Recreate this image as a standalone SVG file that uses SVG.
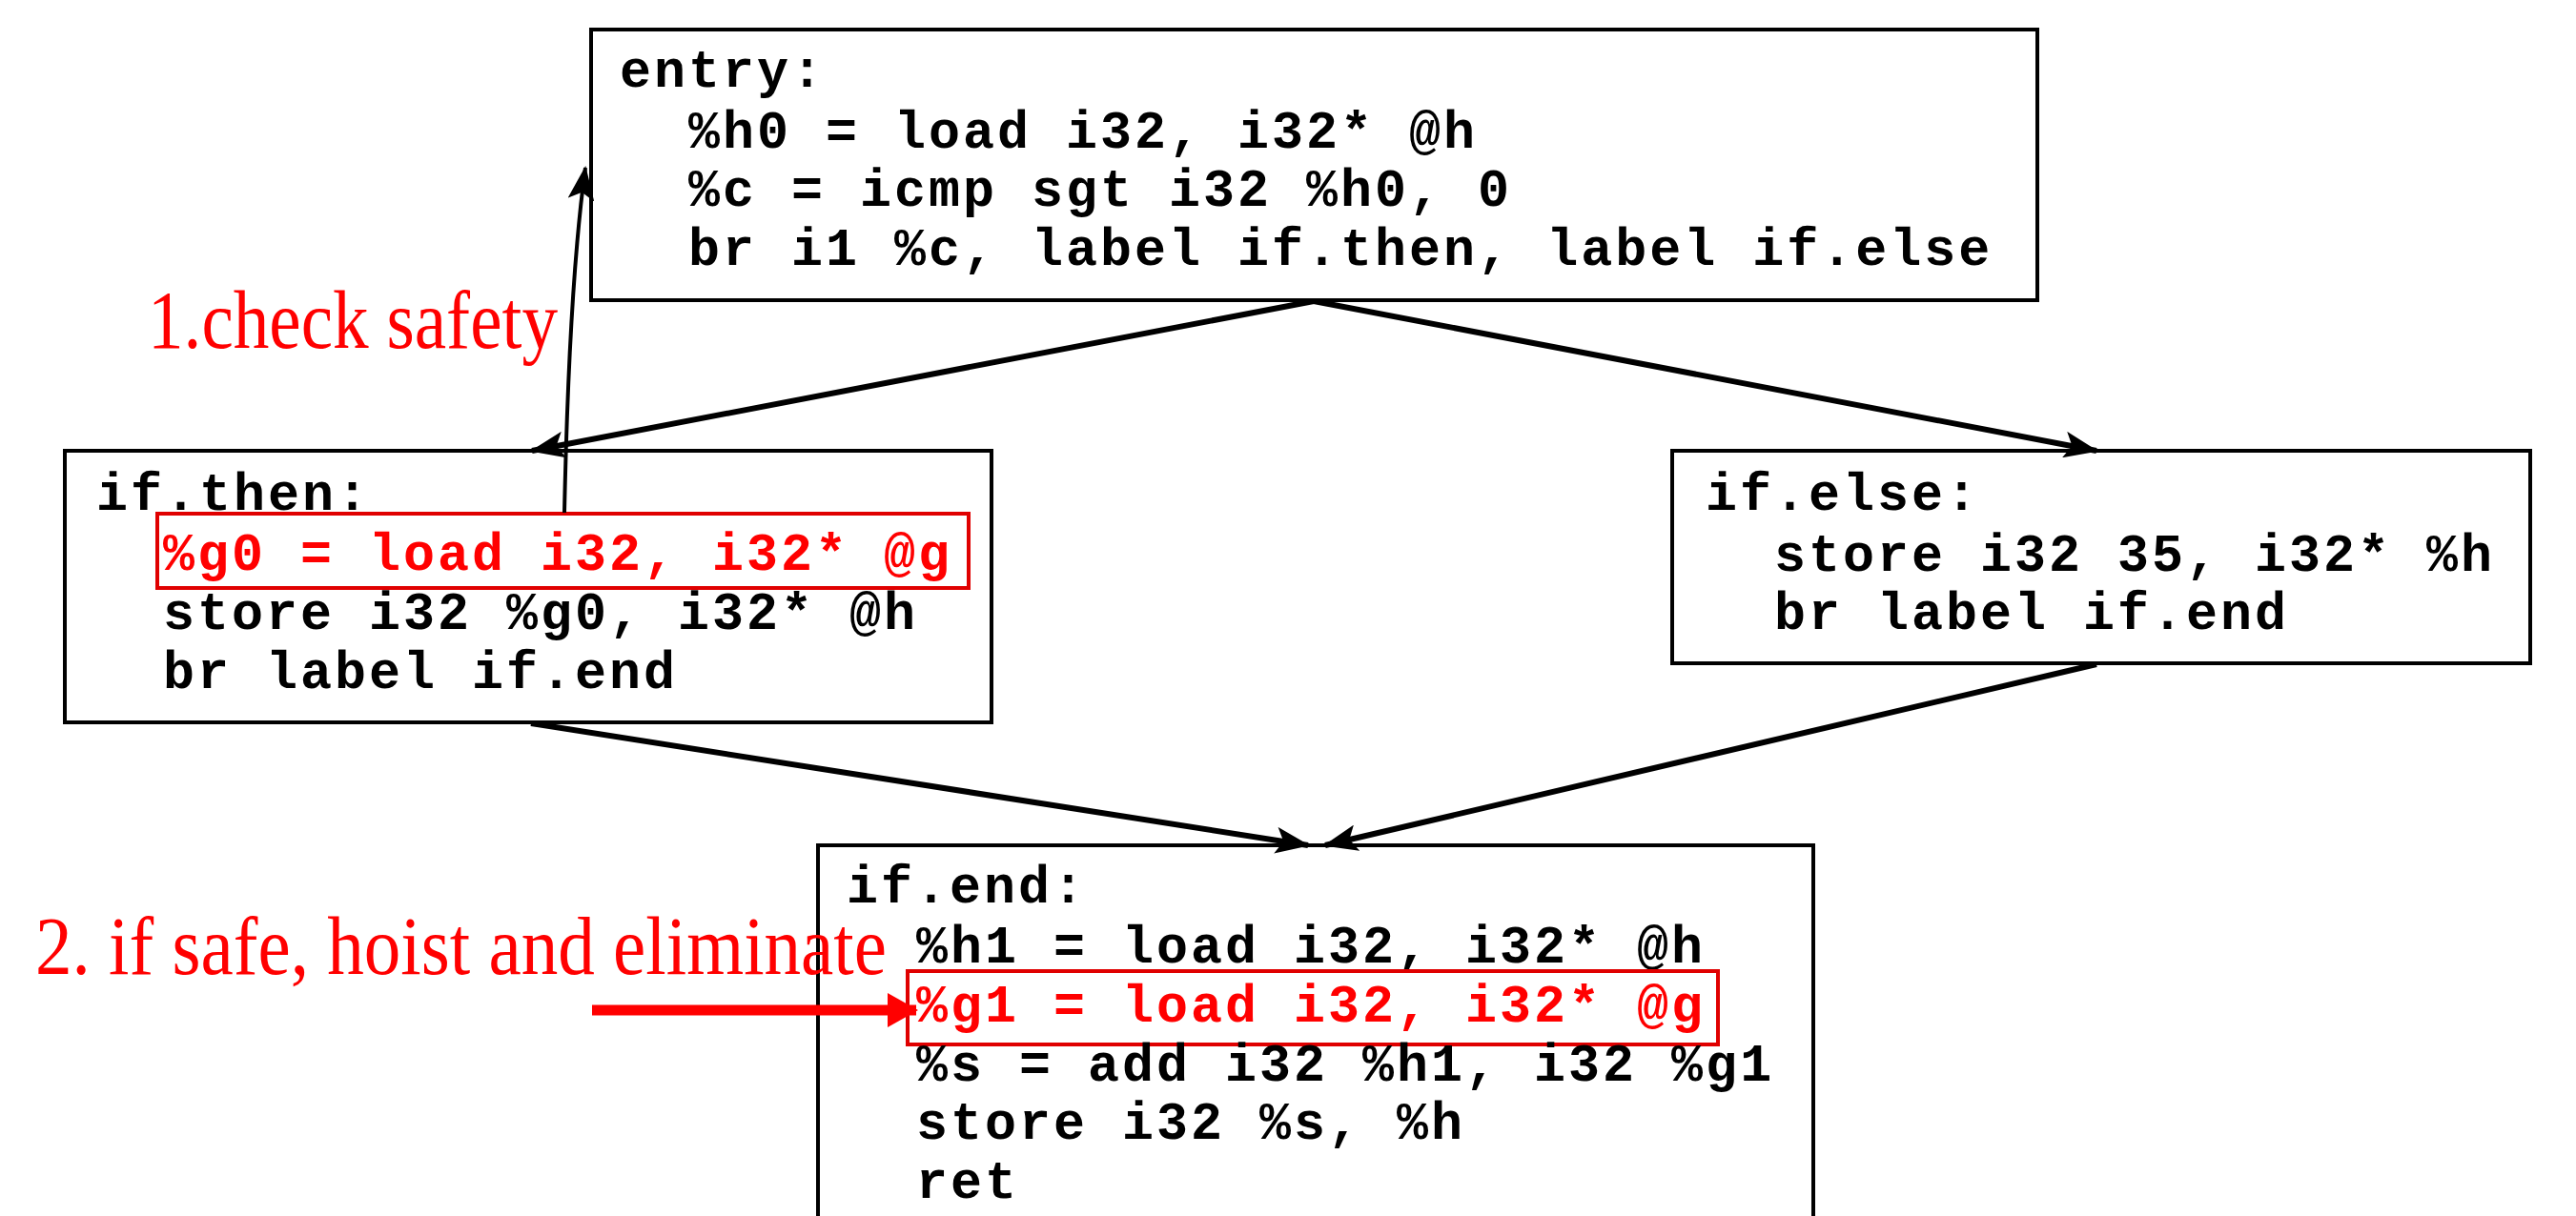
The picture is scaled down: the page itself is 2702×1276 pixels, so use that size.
<svg xmlns="http://www.w3.org/2000/svg" width="2702" height="1276" viewBox="0 0 2702 1276">
<style>
.box{fill:#fff;stroke:#000;stroke-width:4}
.code{font-family:"Liberation Mono","Courier New",monospace;font-weight:bold;font-size:55px;letter-spacing:3px;fill:#000}
.hl{fill:#ff0000}
.hlbox{fill:none;stroke:#e00000;stroke-width:4}
.note{font-family:"Liberation Serif","Times New Roman",serif;font-size:86px;fill:#ff0000}
.edge{fill:none;stroke:#000;stroke-width:6}
.thin{fill:none;stroke:#000;stroke-width:4}
.redarrow{fill:none;stroke:#ff0000;stroke-width:11}
</style>
<defs>
<marker id="ah" markerUnits="userSpaceOnUse" markerWidth="36" markerHeight="28" refX="34" refY="14" orient="auto" viewBox="0 0 36 28">
<path d="M0,0 L36,14 L0,28 L8,14 z" fill="#000"/>
</marker>
<marker id="ahr" markerUnits="userSpaceOnUse" markerWidth="32" markerHeight="36" refX="30" refY="18" orient="auto" viewBox="0 0 32 36">
<path d="M0,0 L32,18 L0,36 z" fill="#ff0000"/>
</marker>
</defs>
<rect width="2702" height="1276" fill="#fff"/>

<g id="entry">
<rect class="box" x="620" y="31" width="1517" height="284"/>
<text class="code" x="650" y="91">entry:</text>
<text class="code" x="722" y="155">%h0 = load i32, i32* @h</text>
<text class="code" x="722" y="216">%c = icmp sgt i32 %h0, 0</text>
<text class="code" x="722" y="278">br i1 %c, label if.then, label if.else</text>
</g>

<g id="if-then">
<rect class="box" x="68" y="473" width="972" height="285"/>
<text class="code" x="101" y="535">if.then:</text>
<rect class="hlbox" x="165" y="539" width="851" height="78"/>
<text class="code hl" x="171" y="598">%g0 = load i32, i32* @g</text>
<text class="code" x="171" y="660">store i32 %g0, i32* @h</text>
<text class="code" x="171" y="722">br label if.end</text>
</g>

<g id="if-else">
<rect class="box" x="1754" y="473" width="900" height="223"/>
<text class="code" x="1789" y="535">if.else:</text>
<text class="code" x="1861" y="599">store i32 35, i32* %h</text>
<text class="code" x="1861" y="660">br label if.end</text>
</g>

<g id="if-end">
<rect class="box" x="858" y="887" width="1044" height="420"/>
<text class="code" x="888" y="947">if.end:</text>
<text class="code" x="961" y="1010">%h1 = load i32, i32* @h</text>
<rect class="hlbox" x="952" y="1019" width="850" height="77"/>
<text class="code hl" x="961" y="1072">%g1 = load i32, i32* @g</text>
<text class="code" x="961" y="1134">%s = add i32 %h1, i32 %g1</text>
<text class="code" x="961" y="1195">store i32 %s, %h</text>
<text class="code" x="961" y="1257">ret</text>
</g>

<g id="label-check">
<text class="note" x="155" y="365" textLength="430" lengthAdjust="spacingAndGlyphs">1.check safety</text>
</g>
<g id="label-hoist">
<text class="note" x="37" y="1022" textLength="893" lengthAdjust="spacingAndGlyphs">2. if safe, hoist and eliminate</text>
</g>

<g id="connectors">
<path class="edge" d="M1378,316 L558,473" marker-end="url(#ah)"/>
<path class="edge" d="M1378,316 L2199,473" marker-end="url(#ah)"/>
<path class="edge" d="M557,759 L1372,887" marker-end="url(#ah)"/>
<path class="edge" d="M2199,697 L1390,887" marker-end="url(#ah)"/>
<path class="thin" d="M592,538 Q597,300 614,176" marker-end="url(#ah)"/>
<path class="redarrow" d="M621,1060 L961,1060" marker-end="url(#ahr)"/>
</g>
</svg>
